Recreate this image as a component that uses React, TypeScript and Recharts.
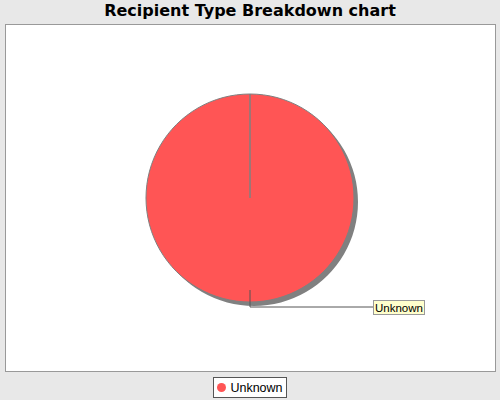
import { Legend, Pie, PieChart } from "recharts";

const categories = ["Unknown"];
const values = [100];
const colors = ["#ff5555"];

const data = categories.map((name, i) => ({ name, value: values[i] }));

const RAD = Math.PI / 180;

function renderLabel(props: any) {
  const { cx, cy, midAngle, outerRadius, name } = props;
  const px = (r: number) => cx + r * Math.cos(-midAngle * RAD);
  const py = (r: number) => cy + r * Math.sin(-midAngle * RAD);
  const x0 = px(outerRadius - 12);
  const y0 = py(outerRadius - 12);
  const y1 = py(outerRadius + 5);
  const bx = cx + 123;
  return (
    <g>
      <polyline points={`${x0},${y0} ${x0},${y1} ${bx},${y1}`} fill="none" stroke="#555" strokeWidth={1} />
      <rect x={bx + 0.5} y={y1 - 6.5} width={51} height={14} fill="#ffffcc" stroke="#999" />
      <text x={bx + 26} y={y1 + 4.5} textAnchor="middle" fontSize={11.5} fontFamily="Liberation Sans" fill="#000">
        {name}
      </text>
    </g>
  );
}

function renderLegend() {
  return (
    <div style={{ display: "flex", justifyContent: "center" }}>
      <div
        style={{
          display: "flex",
          alignItems: "center",
          background: "#fff",
          border: "1px solid #555",
          height: 19,
          padding: "0 3px 0 3px",
          fontFamily: "Liberation Sans",
          fontSize: 12.5,
        }}
      >
        {categories.map((c, i) => (
          <span key={c} style={{ display: "flex", alignItems: "center" }}>
            <span style={{ width: 9, height: 9, borderRadius: "50%", background: colors[i], marginRight: 4 }} />
            {c}
          </span>
        ))}
      </div>
    </div>
  );
}

export default function App() {
  return (
    <div style={{ position: "fixed", left: 0, top: 0, width: 500, height: 400, background: "#e8e8e8" }}>
      <div
        style={{
          position: "absolute",
          top: 1,
          left: 0,
          width: 500,
          textAlign: "center",
          fontFamily: "DejaVu Sans",
          fontWeight: "bold",
          fontSize: 16,
          color: "#000",
        }}
      >
        Recipient Type Breakdown chart
      </div>
      <div
        style={{
          position: "absolute",
          left: 5,
          top: 24,
          width: 489,
          height: 346,
          background: "#fff",
          border: "1px solid #999",
        }}
      />
      <div style={{ position: "absolute", left: 0, top: 0 }}>
        <PieChart width={500} height={400} margin={{ top: 0, right: 0, bottom: 0, left: 0 }}>
          <Pie
            data={data}
            dataKey="value"
            nameKey="name"
            cx={254}
            cy={202}
            outerRadius={104}
            startAngle={90}
            endAngle={-270}
            fill="#808080"
            stroke="none"
            isAnimationActive={false}
            legendType="none"
          />
          <Pie
            data={data}
            dataKey="value"
            nameKey="name"
            cx={250}
            cy={198}
            outerRadius={104}
            startAngle={90}
            endAngle={-270}
            fill={colors[0]}
            stroke="#808080"
            strokeWidth={1}
            label={renderLabel}
            labelLine={false}
            isAnimationActive={false}
          />
          <Legend
            content={renderLegend}
            wrapperStyle={{ position: "absolute", top: 377, left: 0, width: 500 }}
          />
        </PieChart>
      </div>
    </div>
  );
}
